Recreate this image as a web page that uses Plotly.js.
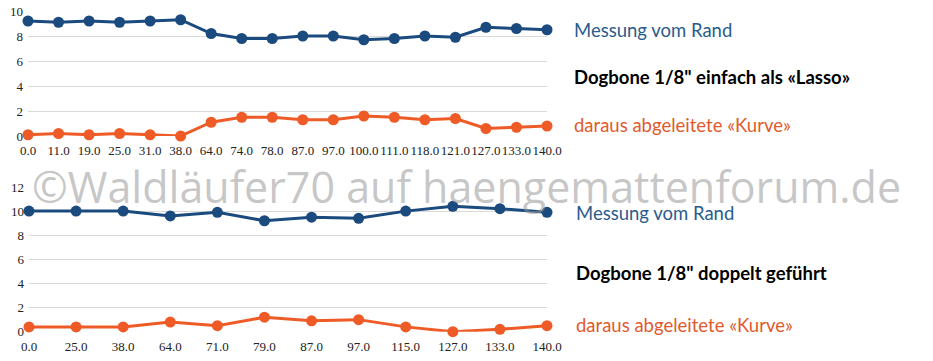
<!DOCTYPE html>
<html>
<head>
<meta charset="utf-8">
<script src="https://cdn.plot.ly/plotly-3.0.1.min.js"></script>
<style>
  html, body { margin: 0; padding: 0; background: #ffffff; }
  #chart { width: 933px; height: 361px; }
</style>
</head>
<body>
<div id="chart"></div>
<script>
// ---- Data ----
const topCategories = ['0.0','11.0','19.0','25.0','31.0','38.0','64.0','74.0','78.0','87.0','97.0','100.0','111.0','118.0','121.0','127.0','133.0','140.0'];
const topMessung = [9.2, 9.1, 9.2, 9.1, 9.2, 9.3, 8.2, 7.8, 7.8, 8.0, 8.0, 7.7, 7.8, 8.0, 7.9, 8.7, 8.6, 8.5];
const topKurve   = [0.1, 0.2, 0.1, 0.2, 0.1, 0.0, 1.1, 1.5, 1.5, 1.3, 1.3, 1.6, 1.5, 1.3, 1.4, 0.6, 0.7, 0.8];

const bottomCategories = ['0.0','25.0','38.0','64.0','71.0','79.0','87.0','97.0','115.0','127.0','133.0','140.0'];
const bottomMessung = [10.0, 10.0, 10.0, 9.6, 9.9, 9.2, 9.5, 9.4, 10.0, 10.4, 10.2, 9.9];
const bottomKurve   = [0.4, 0.4, 0.4, 0.8, 0.5, 1.2, 0.9, 1.0, 0.4, 0.0, 0.2, 0.5];

const labelMessung = 'Messung vom Rand';
const labelKurve = 'daraus abgeleitete «Kurve»';
const titleTop = 'Dogbone 1/8" einfach als «Lasso»';
const titleBottom = 'Dogbone 1/8" doppelt geführt';
const watermark = '©Waldläufer70 auf haengemattenforum.de';

// ---- Styles ----
const BLUE = '#1a4a7e';
const ORANGE = '#ee5b26';
const GRID = '#d9d9d9';
const tickFont = { family: 'Liberation Serif, DejaVu Serif, serif', size: 13, color: '#222222' };
const textFont = 'Lato, Open Sans, sans-serif';

function series(x, y, color, xa, ya) {
  return {
    type: 'scatter', mode: 'lines+markers', x: x, y: y,
    xaxis: xa, yaxis: ya, cliponaxis: false,
    line: { color: color, width: 3 },
    marker: { color: color, size: 11 },
    hoverinfo: 'x+y', showlegend: false
  };
}

const data = [
  series(topCategories, topMessung, BLUE, 'x', 'y'),
  series(topCategories, topKurve, ORANGE, 'x', 'y'),
  series(bottomCategories, bottomMessung, BLUE, 'x2', 'y2'),
  series(bottomCategories, bottomKurve, ORANGE, 'x2', 'y2')
];

function xAxis(cats, domain, anchor) {
  return {
    type: 'category', domain: domain, anchor: anchor,
    range: [0, cats.length - 1],
    showgrid: false, zeroline: false, showline: false, ticks: '',
    tickangle: 0, tickfont: tickFont, ticklabelstandoff: 5, fixedrange: true
  };
}
function yAxis(range, domain, anchor) {
  return {
    domain: domain, anchor: anchor, range: range, dtick: 2,
    showgrid: true, gridcolor: GRID, gridwidth: 1, zeroline: false,
    showline: false, ticks: '', tickfont: tickFont, ticklabelstandoff: 4,
    fixedrange: true
  };
}

const textSize = 18.5;
const layout = {
  width: 933, height: 361,
  margin: { l: 0, r: 0, t: 0, b: 0 },
  paper_bgcolor: '#ffffff', plot_bgcolor: '#ffffff',
  xaxis: xAxis(topCategories, [28/933, 547/933], 'y'),
  yaxis: yAxis([0, 10], [1 - 136/361, 1 - 11/361], 'x'),
  xaxis2: xAxis(bottomCategories, [29/933, 547/933], 'y2'),
  yaxis2: yAxis([0, 12], [1 - 331.7/361, 1 - 187/361], 'x2'),
  annotations: [
    { text: labelMessung, xref: 'paper', yref: 'paper', x: 572/933, y: 1 - 30/361, xanchor: 'left', yanchor: 'middle', showarrow: false, font: { family: textFont, size: textSize, color: '#2a5c8c' } },
    { text: '<b>' + titleTop + '</b>', xref: 'paper', yref: 'paper', x: 572/933, y: 1 - 77/361, xanchor: 'left', yanchor: 'middle', showarrow: false, font: { family: textFont, size: textSize, color: '#000000' } },
    { text: labelKurve, xref: 'paper', yref: 'paper', x: 572/933, y: 1 - 125/361, xanchor: 'left', yanchor: 'middle', showarrow: false, font: { family: textFont, size: textSize, color: '#e15a2c' } },
    { text: labelMessung, xref: 'paper', yref: 'paper', x: 574/933, y: 1 - 213/361, xanchor: 'left', yanchor: 'middle', showarrow: false, font: { family: textFont, size: textSize, color: '#2a5c8c' } },
    { text: '<b>' + titleBottom + '</b>', xref: 'paper', yref: 'paper', x: 574/933, y: 1 - 273/361, xanchor: 'left', yanchor: 'middle', showarrow: false, font: { family: textFont, size: textSize, color: '#000000' } },
    { text: labelKurve, xref: 'paper', yref: 'paper', x: 574/933, y: 1 - 325/361, xanchor: 'left', yanchor: 'middle', showarrow: false, font: { family: textFont, size: textSize, color: '#e15a2c' } },
    { text: watermark, xref: 'paper', yref: 'paper', x: 0.5, y: 1 - 186/361, xanchor: 'center', yanchor: 'middle', showarrow: false, font: { family: 'Open Sans, sans-serif', size: 43, color: 'rgba(150,150,150,0.55)' } }
  ]
};

Plotly.newPlot('chart', data, layout, { displayModeBar: false, staticPlot: true });
</script>
</body>
</html>
